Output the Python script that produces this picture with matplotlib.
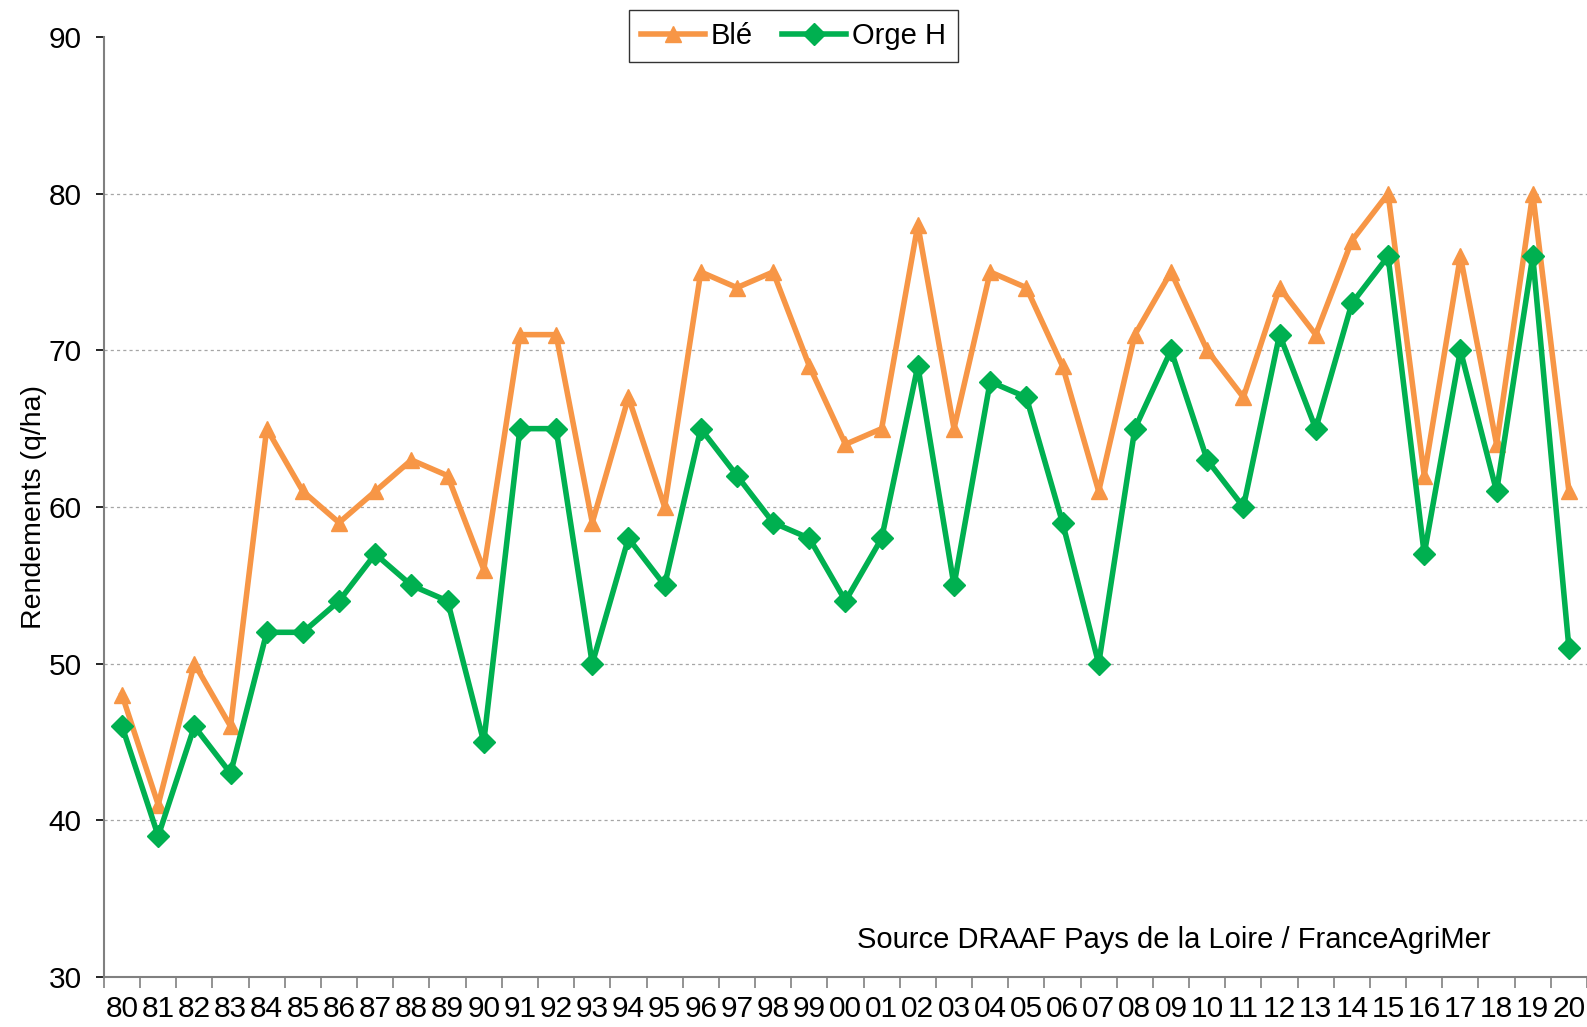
import matplotlib
matplotlib.use("Agg")
import matplotlib.pyplot as plt
import numpy as np

plt.rcParams['font.family'] = ['Liberation Sans', 'DejaVu Sans']

years = ["80","81","82","83","84","85","86","87","88","89","90","91","92","93","94","95","96","97","98","99",
         "00","01","02","03","04","05","06","07","08","09","10","11","12","13","14","15","16","17","18","19","20"]
ble = [48,41,50,46,65,61,59,61,63,62,56,71,71,59,67,60,75,74,75,69,
       64,65,78,65,75,74,69,61,71,75,70,67,74,71,77,80,62,76,64,80,61]
orge = [46,39,46,43,52,52,54,57,55,54,45,65,65,50,58,55,65,62,59,58,
        54,58,69,55,68,67,59,50,65,70,63,60,71,65,73,76,57,70,61,76,51]

fig = plt.figure(figsize=(15.87, 10.27), dpi=100)
ax = fig.add_axes([0.0655, 0.0487, 1 - 0.0655, 0.9153])

x = np.arange(len(years))
ax.plot(x, ble, color='#F79646', lw=4, marker='^', ms=11, label='Blé', zorder=3)
ax.plot(x, orge, color='#00B050', lw=4, marker='D', ms=11, label='Orge H', zorder=4)

ax.set_xlim(-0.5, len(years) - 0.5)
ax.set_ylim(30, 90)
ax.set_yticks(np.arange(30, 91, 10))
for v in range(40, 90, 10):
    ax.axhline(v, color='#A6A6A6', lw=0.9, ls=(0, (2.5, 2.5)), zorder=1)

ax.set_xticks(x)
ax.set_xticklabels(years)
ax.set_xticks(np.arange(-0.5, len(years), 1), minor=True)
ax.tick_params(axis='x', which='major', length=0, labelsize=21.5, pad=13)
ax.tick_params(axis='x', which='minor', length=8, width=1.2, color='#808080')
ax.tick_params(axis='y', length=6, width=1.2, color='black', labelsize=21.5, pad=10)

for s in ['top', 'right']:
    ax.spines[s].set_visible(False)
ax.spines['left'].set_color('#808080')
ax.spines['bottom'].set_color('#808080')
ax.spines['left'].set_linewidth(1.5)
ax.spines['bottom'].set_linewidth(1.5)

ax.set_ylabel('Rendements (q/ha)', fontsize=20.5, labelpad=1)

ax.text(0.7215, 0.039, 'Source DRAAF Pays de la Loire / FranceAgriMer', transform=ax.transAxes,
        fontsize=21, ha='center', va='center')

leg = fig.legend(loc='upper center', bbox_to_anchor=(0.5, 0.99), ncol=2, fontsize=21,
                 frameon=True, fancybox=False, edgecolor='black', handlelength=2.2,
                 columnspacing=1.0, handletextpad=0.2, borderpad=0.4, borderaxespad=0)
leg.get_frame().set_linewidth(1.0)

fig.savefig('out.png', dpi=100)
